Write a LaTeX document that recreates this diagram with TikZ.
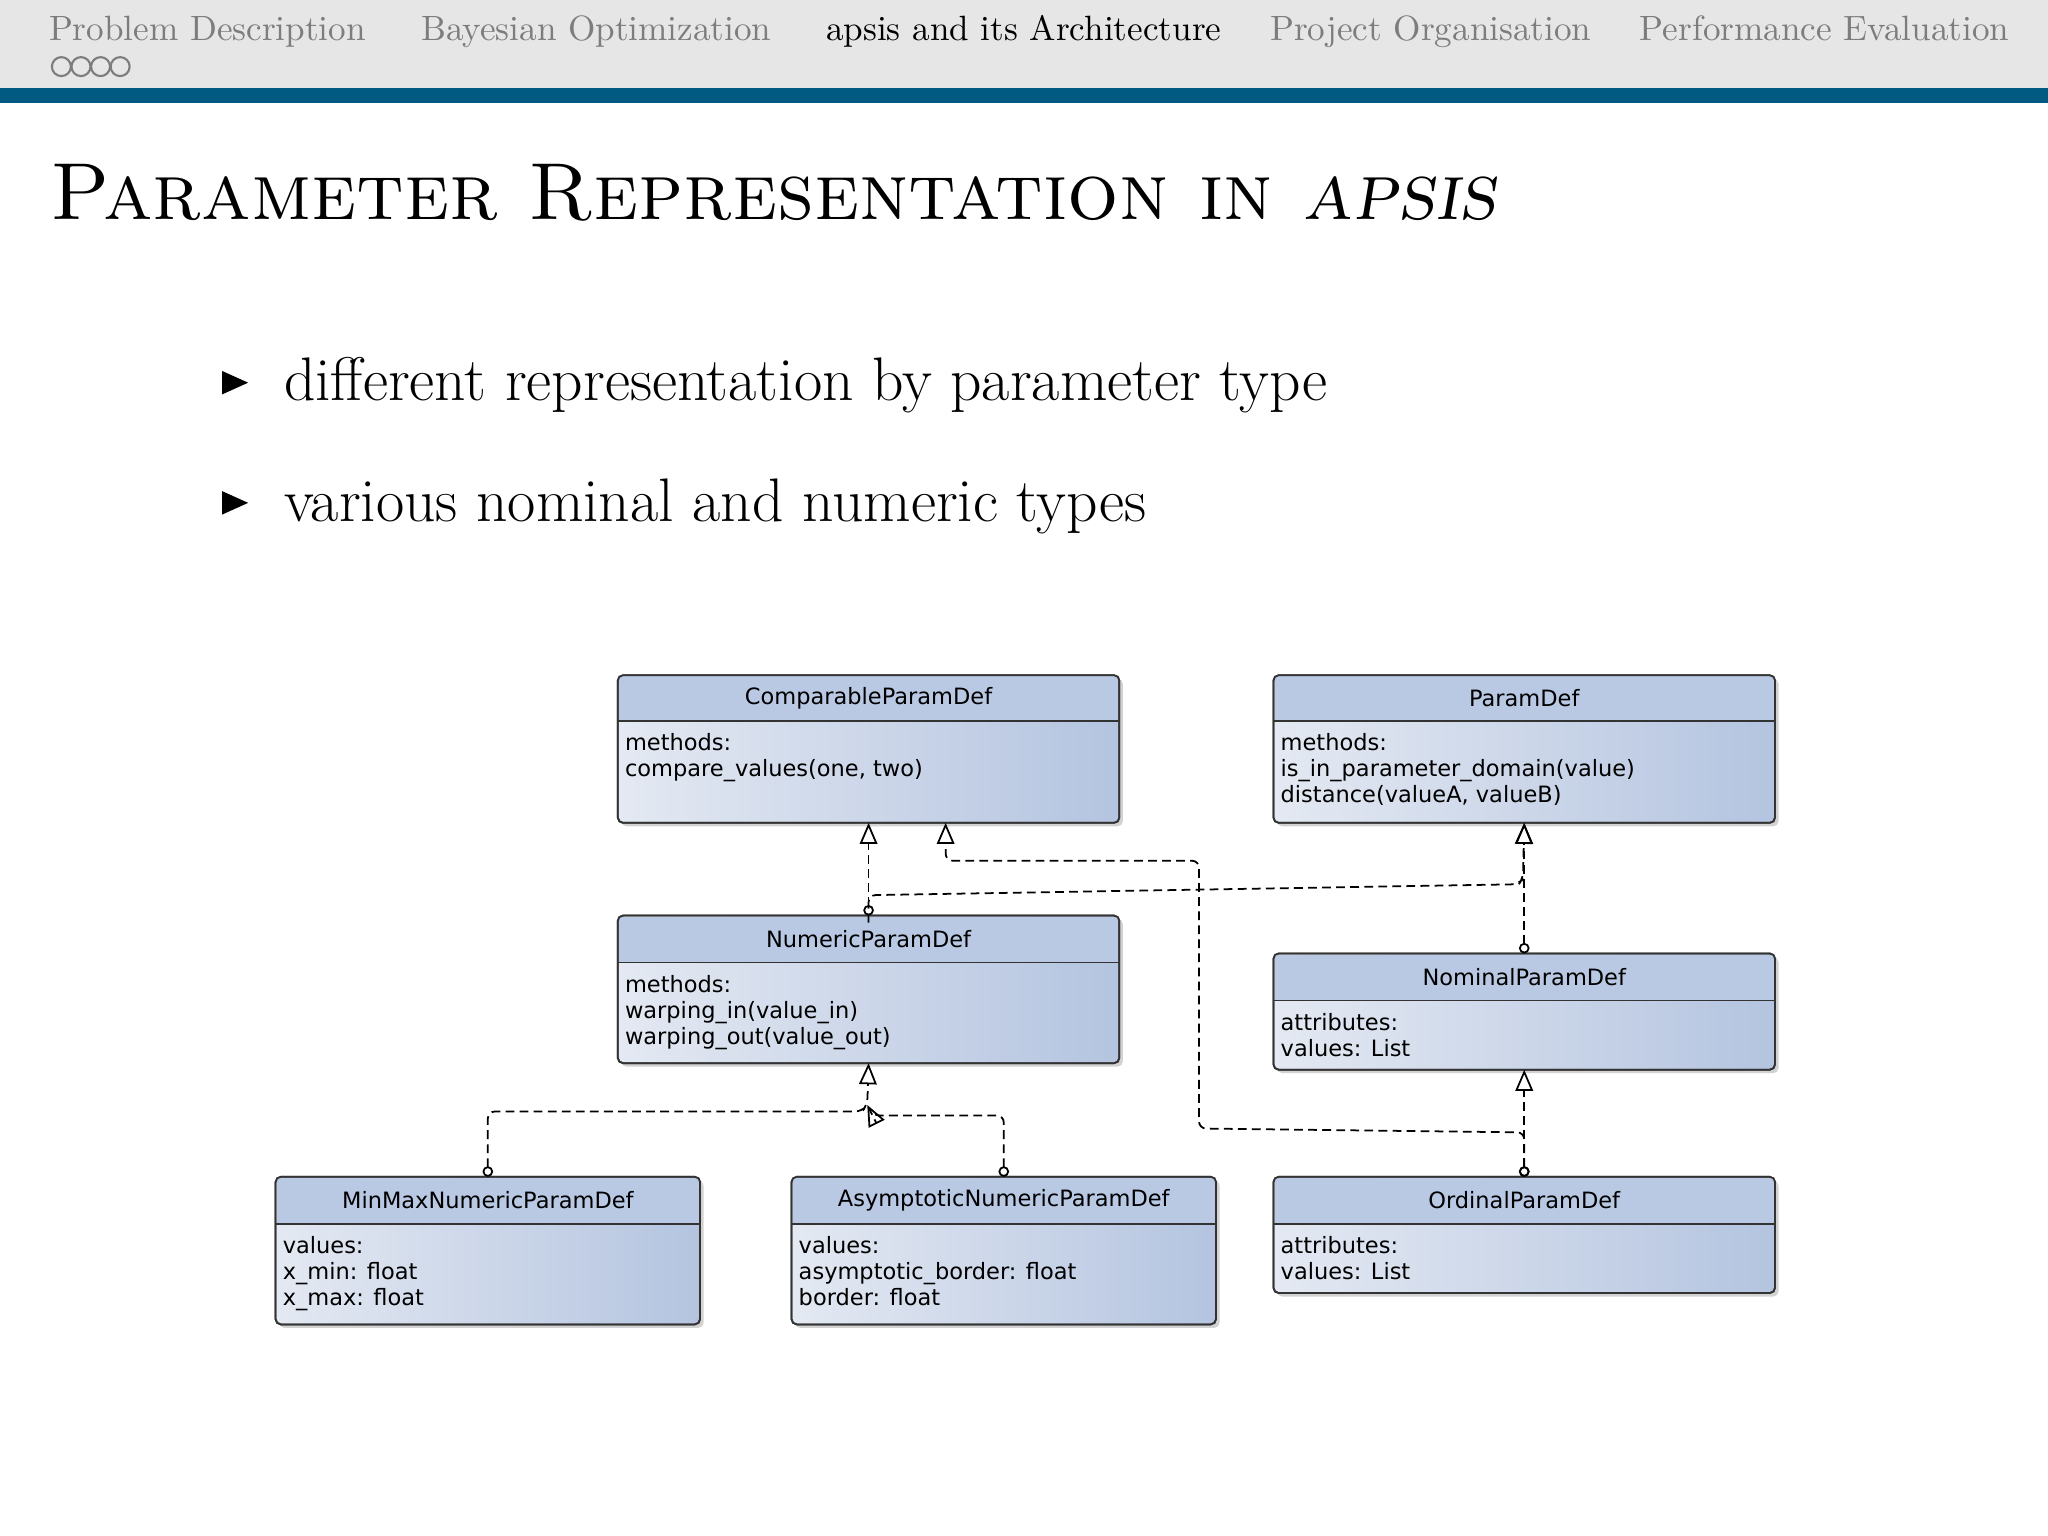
\documentclass[tikz,border=0pt]{standalone}
\usepackage{fontspec}
\newfontfamily\umlfont{DejaVu Sans}
\usepackage{tikz}
\usetikzlibrary{positioning,arrows.meta,shadows}

\definecolor{barblue}{RGB}{0,90,130}
\definecolor{headgray}{RGB}{230,230,230}
\definecolor{navtext}{RGB}{125,125,125}
\definecolor{umlhead}{RGB}{185,201,228}
\definecolor{umllight}{RGB}{228,233,242}
\definecolor{umldark}{RGB}{180,196,224}

\tikzset{
  umlbox/.style={draw=black!80,line width=0.5pt,rounded corners=1.5pt,
    left color=umllight,right color=umldark,
    drop shadow={shadow xshift=1pt,shadow yshift=-1pt,opacity=.35}},
  umltitle/.style={font=\umlfont\fontsize{6.4}{7.4}\selectfont,inner sep=0pt},
  umlbody/.style={font=\umlfont\fontsize{6.4}{7.4}\selectfont,inner sep=0pt,
    anchor=north west,align=left},
  dep/.style={dashed,line width=0.5pt,dash pattern=on 2.5pt off 1.5pt,
    {Circle[open,length=3pt]}-{Triangle[open,length=6pt,width=5pt]}},
  deptri/.style={dashed,line width=0.5pt,dash pattern=on 2.5pt off 1.5pt,
    -{Triangle[open,length=6pt,width=5pt]}},
  navitem/.style={anchor=base west,inner sep=0pt,font=\fontsize{10}{12}\selectfont,text=navtext}
}

% class box: name, left, top, right, bottom, separator y, title, body
\newcommand{\umlclass}[8]{%
  \path[umlbox] (#2,#3) rectangle (#4,#5);
  \fill[umlhead] ([xshift=0.3pt,yshift=-0.3pt]#2,#3) rectangle ([xshift=-0.3pt]#4,#6);
  \draw[black!80,line width=0.5pt,rounded corners=1.5pt] (#2,#3) rectangle (#4,#5);
  \draw[black!80,line width=0.5pt] (#2,#6) -- (#4,#6);
  \node[umltitle] (#1-t) at ({(#2+#4)/2},{(#3+#6)/2}) {#7};
  \node[umlbody] (#1-b) at (#2+5,#6+9) {#8};
  \coordinate (#1-n) at ({(#2+#4)/2},#3);
  \coordinate (#1-s) at ({(#2+#4)/2},#5);
}

\begin{document}
\begin{tikzpicture}[x=0.013061cm,y=-0.013061cm]
  \useasboundingbox (0,0) rectangle (1568,1176);
  \fill[white] (0,0) rectangle (1568,1176);

  %header bar
  \fill[headgray] (0,0) rectangle (1568,67);
  \fill[barblue] (0,67) rectangle (1568,79);
  \node[navitem] (nav1) at (37,31) {Problem Description};
  \node[navitem] (nav2) at (322,31) {Bayesian Optimization};
  \node[navitem,text=black] (nav3) at (632,31) {apsis and its Architecture};
  \node[navitem] (nav4) at (972,31) {Project Organisation};
  \node[navitem] (nav5) at (1255,31) {Performance Evaluation};
  \foreach \i in {0,...,3}
    \draw[navtext,line width=0.6pt] (47+15*\i,51) circle (2.7pt);

  %title and bullets
  \node[anchor=base west,inner sep=0pt,font=\fontsize{23}{26}\selectfont] (title) at (38,168)
    {\scshape Parameter Representation in \textit{apsis}};
  \node[anchor=base west,inner sep=0pt,font=\fontsize{17.5}{20}\selectfont] (bul1) at (217,307)
    {different representation by parameter type};
  \node[anchor=base west,inner sep=0pt,font=\fontsize{17.5}{20}\selectfont] (bul2) at (217,399)
    {various nominal and numeric types};
  \fill (170,284) -- (190,293) -- (170,302) -- cycle;
  \fill (170,376) -- (190,385) -- (170,394) -- cycle;

  %classes
  \umlclass{cmp}{473}{517}{857}{630}{552}{ComparableParamDef}{methods:\\compare\_values(one, two)}
  \umlclass{pd}{975}{517}{1359}{630}{552}{ParamDef}{methods:\\is\_in\_parameter\_domain(value)\\distance(valueA, valueB)}
  \umlclass{num}{473}{701}{857}{814}{737}{NumericParamDef}{methods:\\warping\_in(value\_in)\\warping\_out(value\_out)}
  \umlclass{nom}{975}{730}{1359}{819}{766}{NominalParamDef}{attributes:\\values: List}
  \umlclass{mm}{211}{901}{536}{1014}{937}{MinMaxNumericParamDef}{values:\\x\_min: float\\x\_max: float}
  \umlclass{asy}{606}{901}{931}{1014}{937}{AsymptoticNumericParamDef}{values:\\asymptotic\_border: float\\border: float}
  \umlclass{ord}{975}{901}{1359}{990}{937}{OrdinalParamDef}{attributes:\\values: List}

  %edges
  \coordinate (cmp-s2) at (724,630);
  \draw[dep] (num-n) -- (cmp-s);
  \draw[deptri,rounded corners=2pt] ([yshift=-2pt]num-n) -- ++(0,-21) -- (1163,677) -- ++(3,-4) -- (pd-s);
  \draw[dep] (nom-n) -- (pd-s);
  \draw[dep] (ord-n) -- (nom-s);
  \draw[dep,rounded corners=2pt] (ord-n) -- ++(0,-34) -- (918,864) -- (918,659) -- (724,659) -- (cmp-s2);
  \draw[dep,rounded corners=2pt] (mm-n) -- ++(0,-50) -- (660,851) -- (664,846) -- (num-s);
  \draw[dep,rounded corners=2pt] (asy-n) -- ++(0,-47) -- (668,854) -- (664,846);
\end{tikzpicture}
\end{document}
